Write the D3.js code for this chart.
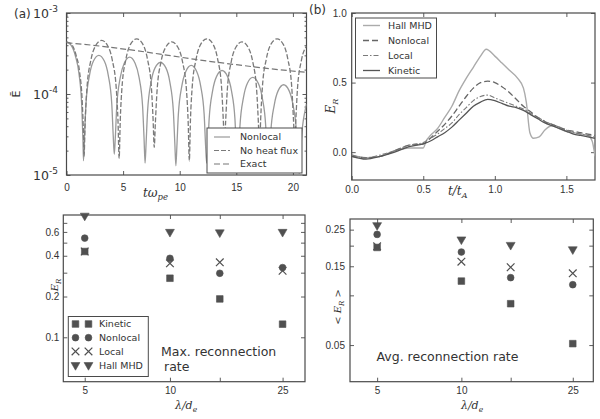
<!DOCTYPE html>
<html><head><meta charset="utf-8">
<script src="https://cdn.jsdelivr.net/npm/d3@7"></script>
<style>
body{margin:0;background:#fff}
svg{display:block;font-family:"DejaVu Sans",sans-serif}
</style></head><body>
<svg id="fig" width="600" height="419"></svg>
<script>
// ---------- (a) field energy vs time: [t, E] pairs ----------
const noHeatFlux = [
  [0,4.4e-4],[0.45,4.1e-4],[0.85,3.0e-4],[1.15,1.9e-4],[1.4,7.5e-5],[1.5,3.2e-5],[1.55,1.7e-5],
  [1.65,4.6e-5],[1.8,1.15e-4],[2.15,2.6e-4],[2.55,3.9e-4],[3.1,4.6e-4],[3.65,3.9e-4],[4.05,2.6e-4],[4.4,1.15e-4],[4.55,4.6e-5],[4.65,1.6e-5],
  [4.75,4.8e-5],[4.9,1.2e-4],[5.25,2.7e-4],[5.65,4.1e-4],[6.2,4.8e-4],[6.75,4.1e-4],[7.15,2.7e-4],[7.5,1.2e-4],[7.65,4.8e-5],[7.75,2.2e-5],
  [7.85,4.4e-5],[8.0,1.1e-4],[8.35,2.5e-4],[8.75,3.75e-4],[9.3,4.4e-4],[9.85,3.75e-4],[10.25,2.5e-4],[10.6,1.1e-4],[10.75,4.4e-5],[10.85,1.5e-5],
  [10.95,4.8e-5],[11.1,1.2e-4],[11.45,2.7e-4],[11.85,4.1e-4],[12.4,4.8e-4],[12.95,4.1e-4],[13.35,2.7e-4],[13.7,1.2e-4],[13.85,4.8e-5],[13.95,2.4e-5],
  [14.05,4.4e-5],[14.2,1.1e-4],[14.55,2.5e-4],[14.95,3.75e-4],[15.5,4.4e-4],[16.05,3.75e-4],[16.45,2.5e-4],[16.8,1.1e-4],[16.95,4.4e-5],[17.05,2.0e-5],
  [17.15,4.8e-5],[17.3,1.2e-4],[17.65,2.7e-4],[18.05,4.1e-4],[18.6,4.8e-4],[19.15,4.1e-4],[19.55,2.7e-4],[19.9,1.2e-4],[20.05,4.8e-5],[20.15,2.6e-5],
  [20.25,4.6e-5],[20.4,1.15e-4],[20.75,2.6e-4],[21.2,3.9e-4]
];
const nonlocalA = [
  [0,4.4e-4],[0.4,4.0e-4],[0.8,2.9e-4],[1.1,1.8e-4],[1.35,7.0e-5],[1.45,2.8e-5],[1.5,1.5e-5],
  [1.59,3.0e-5],[1.72,7.5e-5],[2.03,1.7e-4],[2.38,2.55e-4],[2.86,3.0e-4],[3.34,2.55e-4],[3.69,1.7e-4],[4.0,7.5e-5],[4.13,3.0e-5],[4.22,1.8e-5],
  [4.31,2.85e-5],[4.44,7.1e-5],[4.75,1.6e-4],[5.1,2.4e-4],[5.58,2.85e-4],[6.06,2.4e-4],[6.41,1.6e-4],[6.72,7.1e-5],[6.85,2.85e-5],[6.94,1.4e-5],
  [7.03,2.45e-5],[7.16,6.1e-5],[7.47,1.4e-4],[7.82,2.1e-4],[8.3,2.45e-4],[8.78,2.1e-4],[9.13,1.4e-4],[9.44,6.1e-5],[9.57,2.45e-5],[9.66,1.3e-5],
  [9.75,2.25e-5],[9.88,5.6e-5],[10.19,1.26e-4],[10.54,1.9e-4],[11.02,2.25e-4],[11.5,1.9e-4],[11.85,1.26e-4],[12.16,5.6e-5],[12.29,2.25e-5],[12.38,1.4e-5],
  [12.47,1.95e-5],[12.6,4.9e-5],[12.91,1.1e-4],[13.26,1.65e-4],[13.74,1.95e-4],[14.22,1.65e-4],[14.57,1.1e-4],[14.88,4.9e-5],[15.01,1.95e-5],[15.1,1.2e-5],
  [15.19,1.6e-5],[15.32,4.0e-5],[15.63,9.0e-5],[15.98,1.36e-4],[16.46,1.6e-4],[16.94,1.36e-4],[17.29,9.0e-5],[17.6,4.0e-5],[17.73,1.6e-5],[17.82,1.1e-5],
  [17.91,1.4e-5],[18.04,3.3e-5],[18.35,7.3e-5],[18.7,1.1e-4],[19.18,1.3e-4],[19.66,1.1e-4],[20.01,7.3e-5],[20.32,3.3e-5],[20.45,1.4e-5],[20.54,1.05e-5],
  [20.63,1.2e-5],[20.76,2.8e-5],[21.07,6.2e-5],[21.2,7.5e-5]
];
const exactA = [[0,4.3e-4],[3,3.9e-4],[6,3.45e-4],[9,3.0e-4],[12,2.6e-4],[15,2.3e-4],[18,2.05e-4],[21.2,1.85e-4]];
const tickA = [0,5,10,15,20];
const decadesA = [1e-5,1e-4,1e-3];
const expLabelsA = ["-5","-4","-3"];

// ---------- (b) reconnection rate vs time ----------
const tB = [0,0.1,0.2,0.3,0.4,0.5,0.55,0.6,0.65,0.7,0.75,0.8,0.85,0.9,0.95,1.0,1.05,1.1,1.15,1.2,1.25,1.3,1.35,1.4,1.45,1.5,1.55,1.6,1.65,1.7];
const kineticB  = [-0.03,-0.05,-0.03,0.00,0.04,0.06,0.08,0.11,0.14,0.18,0.23,0.28,0.33,0.36,0.38,0.37,0.35,0.33,0.32,0.30,0.27,0.24,0.21,0.19,0.17,0.15,0.13,0.12,0.11,0.10];
const localB    = [-0.02,-0.04,-0.02,0.01,0.05,0.07,0.10,0.13,0.17,0.21,0.27,0.32,0.37,0.40,0.41,0.39,0.37,0.35,0.33,0.31,0.28,0.25,0.22,0.20,0.18,0.16,0.14,0.13,0.12,0.11];
const nonlocalB = [-0.03,-0.04,-0.03,0.01,0.05,0.06,0.10,0.15,0.20,0.26,0.33,0.40,0.46,0.50,0.51,0.50,0.47,0.43,0.38,0.33,0.29,0.25,0.22,0.20,0.18,0.16,0.15,0.14,0.13,0.12];
const tHall = [0,0.1,0.2,0.3,0.4,0.5,0.52,0.55,0.6,0.65,0.7,0.75,0.8,0.85,0.9,0.94,1.0,1.05,1.1,1.16,1.2,1.22,1.245,1.27,1.31,1.35,1.4,1.45,1.5,1.55,1.6,1.65,1.68,1.7];
const hallB = [-0.02,-0.04,-0.03,0.01,0.03,0.03,0.08,0.12,0.17,0.25,0.33,0.44,0.53,0.61,0.69,0.74,0.69,0.64,0.59,0.53,0.46,0.36,0.14,0.10,0.11,0.16,0.19,0.17,0.15,0.14,0.13,0.12,0.08,-0.03];
const tickBx = [0,0.5,1.0,1.5];
const tickBy = [0,0.5,1.0];

// ---------- (c), (d) rates vs wavelength ----------
const lambdas = [5,10,15,25];
const maxKinetic  = [0.43,0.273,0.192,0.125];
const maxNonlocal = [0.54,0.383,0.297,0.327];
const maxLocal    = [0.43,0.352,0.358,0.31];
const maxHall     = [0.79,0.60,0.595,0.60];
const avgKinetic  = [0.195,0.122,0.089,0.051];
const avgNonlocal = [0.234,0.183,0.128,0.116];
const avgLocal    = [0.198,0.16,0.148,0.136];
const avgHall     = [0.266,0.218,0.202,0.19];
const tickLam = [5,10,15,25];
const labLam = ["5","10","","25"];
const tickC = [0.1,0.2,0.3,0.4,0.5,0.6,0.7];
const labC = {0.1:"0.1",0.2:"0.2",0.4:"0.4",0.6:"0.6"};
const tickD = [0.05,0.1,0.15,0.2,0.25];
const labD = {0.05:"0.05",0.15:"0.15",0.25:"0.25"};

const svg = d3.select("#fig");
const ink = "#4a4a4a";
const txt = "#333";
const FS = 12.5;

function axes(x, y, o) {
  const [xa, xb] = x.range(), [ya, yb] = y.range(); // ya bottom, yb top
  const g = svg.append("g").attr("font-family", '"DejaVu Sans",sans-serif').attr("font-size", FS);
  const mk = (ax, tv, fmt, size, pad) => ax.tickValues(tv).tickFormat(fmt).tickSizeInner(size).tickSizeOuter(0).tickPadding(pad);
  g.append("g").attr("transform", `translate(0,${ya})`).call(mk(d3.axisBottom(x), o.xt, o.xf, -4, o.xpad));
  g.append("g").attr("transform", `translate(0,${yb})`).call(mk(d3.axisTop(x), o.xt, "", -4, 0));
  g.append("g").attr("transform", `translate(${xa},0)`).call(mk(d3.axisLeft(y), o.yt, o.yf, -4, o.ypad));
  g.append("g").attr("transform", `translate(${xb},0)`).call(mk(d3.axisRight(y), o.yt, "", -4, 0));
  if (o.ym) {
    g.append("g").attr("transform", `translate(${xa},0)`).call(mk(d3.axisLeft(y), o.ym, "", -2, 0));
    g.append("g").attr("transform", `translate(${xb},0)`).call(mk(d3.axisRight(y), o.ym, "", -2, 0));
  }
  g.selectAll(".domain").remove();
  g.selectAll("line").attr("stroke", ink).attr("stroke-width", 0.9);
  g.selectAll("text").attr("fill", txt);
  svg.append("rect").attr("x", xa).attr("y", yb).attr("width", xb - xa).attr("height", ya - yb)
    .attr("fill", "none").attr("stroke", ink).attr("stroke-width", 1.2);
}

function clipFor(id, x, y) {
  const [xa, xb] = x.range(), [ya, yb] = y.range();
  svg.append("clipPath").attr("id", id).append("rect")
    .attr("x", xa).attr("y", yb).attr("width", xb - xa).attr("height", ya - yb);
  return svg.append("g").attr("clip-path", `url(#${id})`);
}

function label(x, y, parts, opt = {}) {
  const t = svg.append("text").attr("x", x).attr("y", y).attr("fill", txt)
    .attr("font-size", opt.fs || FS).attr("text-anchor", opt.anchor || "start")
    .attr("font-family", opt.family || '"DejaVu Sans",sans-serif');
  if (opt.rot) t.attr("transform", `rotate(-90,${x},${y})`);
  if (opt.italic) t.attr("font-style", "italic");
  parts.forEach(p => {
    const s = t.append("tspan").text(p.t);
    if (p.dy) s.attr("dy", p.dy);
    if (p.fs) s.attr("font-size", p.fs);
  });
  return t;
}

// ===== panel (a) =====
const xA = d3.scaleLinear().domain([0, 21.2]).range([66.5, 306.5]);
const yA = d3.scaleLog().domain([1e-5, 1e-3]).range([175, 13]);
const minorA = [];
[1e-5, 1e-4].forEach(d => { for (let k = 2; k < 10; k++) minorA.push(d * k); });
axes(xA, yA, {xt: tickA, xf: d3.format("d"), xpad: 9, yt: decadesA, yf: () => "", ypad: 0, ym: minorA});
decadesA.forEach((d, i) => {
  label(58, yA(d) + 4.5, [{t: "10"}, {t: expLabelsA[i], dy: -6, fs: 9}], {anchor: "end"});
});
const gA = clipFor("clipA", xA, yA);
const lineA = d3.line().x(d => xA(d[0])).y(d => yA(d[1])).curve(d3.curveMonotoneX);
gA.append("path").datum(exactA).attr("d", lineA).attr("fill", "none")
  .attr("stroke", "#777").attr("stroke-width", 1.2).attr("stroke-dasharray", "6,3");
gA.append("path").datum(nonlocalA).attr("d", lineA).attr("fill", "none")
  .attr("stroke", "#9a9a9a").attr("stroke-width", 1.3);
gA.append("path").datum(noHeatFlux).attr("d", lineA).attr("fill", "none")
  .attr("stroke", "#7a7a7a").attr("stroke-width", 1.3).attr("stroke-dasharray", "5,2");
// legend (a)
svg.append("rect").attr("x", 207).attr("y", 128).attr("width", 95).attr("height", 45)
  .attr("fill", "#fff").attr("stroke", ink).attr("stroke-width", 1);
[["Nonlocal", "#9a9a9a", null], ["No heat flux", "#7a7a7a", "5,2"], ["Exact", "#777", "6,3"]].forEach((e, i) => {
  const yy = 137 + i * 13.5;
  svg.append("line").attr("x1", 214).attr("x2", 230).attr("y1", yy).attr("y2", yy)
    .attr("stroke", e[1]).attr("stroke-width", 1.2).attr("stroke-dasharray", e[2]);
  label(240, yy + 3.3, [{t: e[0]}], {fs: 9.5});
});
label(14, 18, [{t: "(a)"}], {fs: 12});
label(20, 94, [{t: "Ē"}], {rot: true, anchor: "middle", fs: 11});
label(143, 197, [{t: "tω"}, {t: "pe", dy: 3, fs: 8.5}], {italic: true, family: '"DejaVu Serif",serif', fs: 12});

// ===== panel (b) =====
const xB = d3.scaleLinear().domain([0, 1.7]).range([351.7, 595]);
const yB = d3.scaleLinear().domain([-0.2, 1.0]).range([180, 13]);
axes(xB, yB, {xt: tickBx, xf: d3.format(".1f"), xpad: 6, yt: tickBy, yf: d3.format(".1f"), ypad: 5});
const gB = clipFor("clipB", xB, yB);
const lineB = d3.line().x(d => xB(d[0])).y(d => yB(d[1])).curve(d3.curveMonotoneX);
const seriesB = [
  {name: "Hall MHD", t: tHall, v: hallB, c: "#ababab", w: 1.4, dash: null},
  {name: "Nonlocal", t: tB, v: nonlocalB, c: "#666", w: 1.3, dash: "6,3"},
  {name: "Local", t: tB, v: localB, c: "#7a7a7a", w: 1.1, dash: "5,2,1.5,2"},
  {name: "Kinetic", t: tB, v: kineticB, c: "#555", w: 1.3, dash: null}
];
seriesB.forEach(s => {
  gB.append("path").datum(s.t.map((t, i) => [t, s.v[i]])).attr("d", lineB).attr("fill", "none")
    .attr("stroke", s.c).attr("stroke-width", s.w).attr("stroke-dasharray", s.dash);
});
svg.append("rect").attr("x", 355.5).attr("y", 18).attr("width", 81).attr("height", 60)
  .attr("fill", "#fff").attr("stroke", ink).attr("stroke-width", 1);
seriesB.forEach((s, i) => {
  const yy = 25.5 + i * 15;
  svg.append("line").attr("x1", 363).attr("x2", 380).attr("y1", yy).attr("y2", yy)
    .attr("stroke", s.c).attr("stroke-width", s.w).attr("stroke-dasharray", s.dash);
  label(388, yy + 3.3, [{t: s.name}], {fs: 9.5});
});
label(309, 14, [{t: "(b)"}], {fs: 12});
label(335, 106, [{t: "E"}, {t: "R", dy: 3, fs: 8}], {rot: true, anchor: "middle", italic: true, family: '"DejaVu Serif",serif', fs: 12});
label(448, 195, [{t: "t/t"}, {t: "A", dy: 3, fs: 8}], {italic: true, family: '"DejaVu Serif",serif', fs: 12});

// ===== markers =====
const markInk = "#505050";
const markerDefs = {
  Kinetic: {sym: d3.symbolSquare, size: 44, fill: true, rot: 0},
  Nonlocal: {sym: d3.symbolCircle, size: 36, fill: true, rot: 0},
  Local: {sym: d3.symbolTimes || d3.symbolX, size: 40, fill: false, rot: 0},
  "Hall MHD": {sym: d3.symbolTriangle, size: 34, fill: true, rot: 180}
};
function marker(g, name, cx, cy) {
  const m = markerDefs[name];
  g.append("path").attr("d", d3.symbol(m.sym, m.size)())
    .attr("transform", `translate(${cx},${cy}) rotate(${m.rot})`)
    .attr("fill", m.fill ? markInk : "none").attr("stroke", markInk).attr("stroke-width", m.fill ? 0.6 : 1.2);
}

// ===== panel (c) =====
const xC = d3.scaleLog().domain([4.2, 30]).range([63.3, 305]);
const yC = d3.scaleLog().domain([0.047, 0.8]).range([381.7, 215]);
axes(xC, yC, {xt: tickLam, xf: (d, i) => labLam[i], xpad: 5, yt: tickC, yf: d => labC[d] || "", ypad: 4});
const seriesC = [["Kinetic", maxKinetic], ["Nonlocal", maxNonlocal], ["Local", maxLocal], ["Hall MHD", maxHall]];
const gC = svg.append("g");
seriesC.forEach(([n, v]) => lambdas.forEach((l, i) => marker(gC, n, xC(l), yC(v[i]))));
svg.append("rect").attr("x", 68.3).attr("y", 316.5).attr("width", 80).attr("height", 60)
  .attr("fill", "#fff").attr("stroke", ink).attr("stroke-width", 1);
seriesC.forEach(([n], i) => {
  const yy = 324 + i * 13.7;
  marker(svg, n, 75.5, yy);
  marker(svg, n, 88.5, yy);
  label(99, yy + 3.4, [{t: n}], {fs: 9.5});
});
label(161, 356, [{t: "Max. reconnection"}], {fs: 12.5});
label(164, 370.5, [{t: "rate"}], {fs: 12.5});
label(58, 285, [{t: "E"}, {t: "R", dy: 3, fs: 7}], {rot: true, anchor: "middle", italic: true, family: '"DejaVu Serif",serif', fs: 10});
label(186, 409, [{t: "λ/d"}, {t: "e", dy: 3, fs: 7.5}], {anchor: "middle", italic: true, family: '"DejaVu Serif",serif', fs: 11});

// ===== panel (d) =====
const xD = d3.scaleLog().domain([4.0, 29.6]).range([350, 593.3]);
const yD = d3.scaleLog().domain([0.03, 0.29]).range([381.7, 219]);
axes(xD, yD, {xt: tickLam, xf: (d, i) => labLam[i], xpad: 5, yt: tickD, yf: d => labD[d] || "", ypad: 5});
const seriesD = [["Kinetic", avgKinetic], ["Local", avgLocal], ["Nonlocal", avgNonlocal], ["Hall MHD", avgHall]];
const gD = svg.append("g");
seriesD.forEach(([n, v]) => lambdas.forEach((l, i) => marker(gD, n, xD(l), yD(v[i]))));
label(376.5, 361, [{t: "Avg. reconnection rate"}], {fs: 12.5});
label(341, 307, [{t: "< E"}, {t: "R", dy: 3, fs: 7}, {t: " >", dy: -3}], {rot: true, anchor: "middle", italic: true, family: '"DejaVu Serif",serif', fs: 10});
label(472, 409, [{t: "λ/d"}, {t: "e", dy: 3, fs: 7.5}], {anchor: "middle", italic: true, family: '"DejaVu Serif",serif', fs: 11});
</script>
</body></html>
